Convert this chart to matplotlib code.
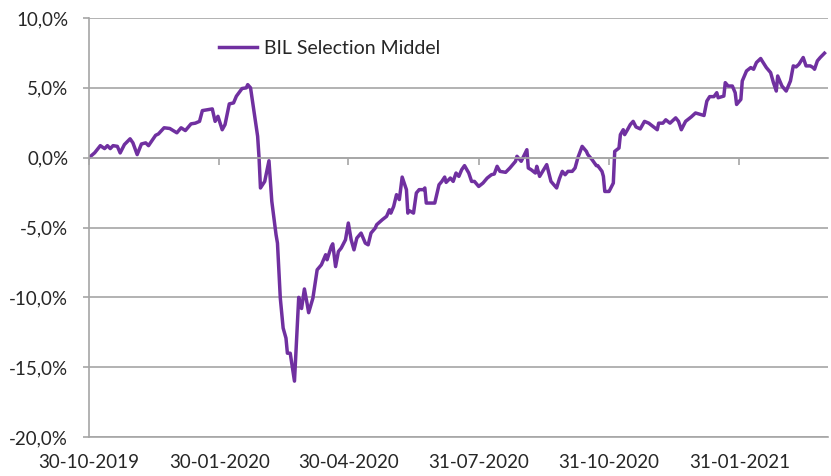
import matplotlib
matplotlib.use("Agg")
import matplotlib.pyplot as plt
from matplotlib.ticker import FuncFormatter
import pandas as pd

plt.rcParams['font.family'] = ['Lato', 'DejaVu Sans']

dates = [
    "2019-10-30", "2019-11-03", "2019-11-07", "2019-11-10", "2019-11-12", "2019-11-14",
    "2019-11-16", "2019-11-19", "2019-11-21", "2019-11-24", "2019-11-28", "2019-11-30",
    "2019-12-03", "2019-12-06", "2019-12-09", "2019-12-11", "2019-12-16", "2019-12-18",
    "2019-12-22", "2019-12-26", "2019-12-31", "2020-01-03", "2020-01-06", "2020-01-10",
    "2020-01-13", "2020-01-16", "2020-01-18", "2020-01-22", "2020-01-25", "2020-01-27",
    "2020-01-29", "2020-02-01", "2020-02-03", "2020-02-06", "2020-02-09", "2020-02-11",
    "2020-02-15", "2020-02-18", "2020-02-19", "2020-02-21", "2020-02-26", "2020-02-27",
    "2020-02-28", "2020-03-02", "2020-03-05", "2020-03-07", "2020-03-10", "2020-03-11",
    "2020-03-13", "2020-03-15", "2020-03-17", "2020-03-18", "2020-03-20", "2020-03-23",
    "2020-03-26", "2020-03-28", "2020-03-30", "2020-04-01", "2020-04-02", "2020-04-05",
    "2020-04-08", "2020-04-11", "2020-04-14", "2020-04-15", "2020-04-18", "2020-04-19",
    "2020-04-21", "2020-04-23", "2020-04-25", "2020-04-28", "2020-04-30", "2020-05-02",
    "2020-05-04", "2020-05-06", "2020-05-09", "2020-05-12", "2020-05-14", "2020-05-16",
    "2020-05-19", "2020-05-20", "2020-05-24", "2020-05-27", "2020-05-29", "2020-05-30",
    "2020-06-01", "2020-06-03", "2020-06-05", "2020-06-07", "2020-06-10", "2020-06-11",
    "2020-06-12", "2020-06-13", "2020-06-15", "2020-06-17", "2020-06-19", "2020-06-22",
    "2020-06-23", "2020-06-24", "2020-06-30", "2020-07-03", "2020-07-05", "2020-07-07",
    "2020-07-08", "2020-07-11", "2020-07-13", "2020-07-15", "2020-07-17", "2020-07-19",
    "2020-07-21", "2020-07-24", "2020-07-26", "2020-07-28", "2020-07-31", "2020-08-03",
    "2020-08-06", "2020-08-09", "2020-08-11", "2020-08-13", "2020-08-15", "2020-08-19",
    "2020-08-22", "2020-08-26", "2020-08-27", "2020-08-30", "2020-09-03", "2020-09-04",
    "2020-09-06", "2020-09-09", "2020-09-10", "2020-09-12", "2020-09-17", "2020-09-20",
    "2020-09-22", "2020-09-24", "2020-09-26", "2020-09-28", "2020-09-30", "2020-10-02",
    "2020-10-05", "2020-10-07", "2020-10-09", "2020-10-12", "2020-10-15", "2020-10-16",
    "2020-10-19", "2020-10-22", "2020-10-23", "2020-10-26", "2020-10-27", "2020-10-28",
    "2020-10-31", "2020-11-03", "2020-11-04", "2020-11-07", "2020-11-08", "2020-11-10",
    "2020-11-11", "2020-11-13", "2020-11-15", "2020-11-17", "2020-11-19", "2020-11-22",
    "2020-11-25", "2020-11-28", "2020-12-01", "2020-12-04", "2020-12-05", "2020-12-08",
    "2020-12-10", "2020-12-13", "2020-12-17", "2020-12-19", "2020-12-21", "2020-12-24",
    "2020-12-28", "2020-12-31", "2021-01-06", "2021-01-08", "2021-01-10", "2021-01-13",
    "2021-01-15", "2021-01-16", "2021-01-20", "2021-01-21", "2021-01-23", "2021-01-26",
    "2021-01-28", "2021-01-29", "2021-02-01", "2021-02-02", "2021-02-05", "2021-02-08",
    "2021-02-10", "2021-02-12", "2021-02-15", "2021-02-16", "2021-02-19", "2021-02-22",
    "2021-02-24", "2021-02-26", "2021-02-27", "2021-03-02", "2021-03-05", "2021-03-08",
    "2021-03-10", "2021-03-12", "2021-03-14", "2021-03-17", "2021-03-19", "2021-03-22",
    "2021-03-24", "2021-03-25", "2021-03-27", "2021-03-29", "2021-04-01",
]

values = [
    0.00, 0.35, 0.86, 0.65, 0.86, 0.65,
    0.86, 0.81, 0.34, 0.94, 1.35, 1.06,
    0.22, 0.98, 1.06, 0.86, 1.60, 1.70,
    2.14, 2.09, 1.78, 2.14, 1.94, 2.42,
    2.47, 2.60, 3.37, 3.44, 3.49, 2.60,
    2.96, 2.00, 2.37, 3.85, 3.92, 4.40,
    4.95, 5.00, 5.23, 5.00, 1.53, 0.00,
    -2.17, -1.70, -0.22, -3.13, -5.52, -6.12,
    -10.06, -12.20, -12.92, -14.00, -14.00, -16.00,
    -10.00, -10.80, -9.40, -10.50, -11.10, -10.06,
    -8.03, -7.67, -6.95, -7.31, -6.36, -6.17,
    -7.80, -6.72, -6.47, -5.88, -4.68, -5.88,
    -6.60, -5.76, -5.40, -6.12, -6.24, -5.40,
    -5.04, -4.80, -4.44, -4.20, -3.73, -3.97,
    -3.49, -2.65, -3.00, -1.39, -2.29, -3.97,
    -3.80, -3.85, -3.97, -2.53, -2.29, -2.29,
    -2.17, -3.25, -3.25, -1.94, -1.70, -1.39,
    -1.77, -1.46, -1.70, -1.10, -1.34, -0.86,
    -0.57, -1.10, -1.70, -1.70, -2.06, -1.82,
    -1.46, -1.22, -1.17, -0.62, -0.98, -1.05,
    -0.74, -0.26, 0.10, -0.26, 0.57, -0.74,
    -0.86, -1.10, -0.62, -1.34, -0.50, -1.70,
    -1.94, -2.17, -1.50, -0.98, -1.22, -0.98,
    -0.98, -0.74, 0.00, 0.81, 0.45, 0.22,
    -0.14, -0.57, -0.57, -0.98, -1.34, -2.42,
    -2.42, -1.82, 0.45, 0.69, 1.65, 2.00,
    1.65, 2.00, 2.37, 2.60, 2.20, 2.06,
    2.60, 2.47, 2.23, 2.00, 2.47, 2.47,
    2.71, 2.47, 2.85, 2.60, 2.00, 2.60,
    2.92, 3.20, 3.02, 4.05, 4.37, 4.37,
    4.65, 4.29, 4.41, 5.37, 5.13, 5.13,
    4.65, 3.81, 4.17, 5.49, 6.21, 6.45,
    6.33, 6.81, 7.10, 6.93, 6.45, 6.09,
    5.37, 4.77, 5.85, 5.13, 4.77, 5.49,
    6.57, 6.50, 6.69, 7.17, 6.57, 6.57,
    6.45, 6.33, 6.93, 7.17, 7.48,
]

series_label = "BIL Selection Middel"
tick_dates = ["2019-10-30", "2020-01-30", "2020-04-30", "2020-07-31", "2020-10-31", "2021-01-31"]
tick_labels = ["30-10-2019", "30-01-2020", "30-04-2020", "31-07-2020", "31-10-2020", "31-01-2021"]
y_ticks = [-20, -15, -10, -5, 0, 5, 10]

x = pd.to_datetime(dates)
xt = pd.to_datetime(tick_dates)

grid_c = "#A6A6A6"
purple = "#7030A0"
txt_c = "#262626"

fig = plt.figure(figsize=(8.31, 4.76), dpi=100)
ax = fig.add_axes([89/831, 1-437/476, (828-89)/831, (437-18)/476])

ax.plot(x, values, color=purple, lw=2.5, label=series_label, solid_joinstyle='round')

ax.set_ylim(-20, 10)
ax.set_yticks(y_ticks)
ax.yaxis.set_major_formatter(FuncFormatter(lambda v, p: f"{v:.1f}%".replace(".", ",")))
ax.set_xlim(pd.Timestamp("2019-10-30"), pd.Timestamp("2021-04-03 12:00"))

ax.grid(axis='y', color=grid_c, lw=1.2)
ax.set_axisbelow(True)
for s in ['top', 'right']:
    ax.spines[s].set_visible(False)
ax.spines['left'].set_color(grid_c)
ax.spines['left'].set_linewidth(1.2)
ax.spines['bottom'].set_position(('data', 0))
ax.spines['bottom'].set_color(grid_c)
ax.spines['bottom'].set_linewidth(1.2)

ax.set_xticks(xt)
ax.tick_params(axis='x', direction='out', length=5, width=1.2, color=grid_c, labelbottom=False)
ax.tick_params(axis='y', direction='out', length=4, width=1.2, color=grid_c,
               labelsize=13.5, labelcolor=txt_c, pad=11)

sec = ax.secondary_xaxis(0)
sec.set_xticks(xt)
sec.set_xticklabels(tick_labels)
sec.tick_params(axis='x', length=0, pad=12, labelsize=13.5, labelcolor=txt_c)
sec.spines['bottom'].set_color(grid_c)
sec.spines['bottom'].set_linewidth(1.2)

leg = ax.legend(loc='center left', bbox_to_anchor=(0.166, 0.928), frameon=False,
                fontsize=14, handlelength=1.95, handletextpad=0.35, borderaxespad=0)
for t in leg.get_texts():
    t.set_color(txt_c)

fig.savefig("out.png", dpi=100)
